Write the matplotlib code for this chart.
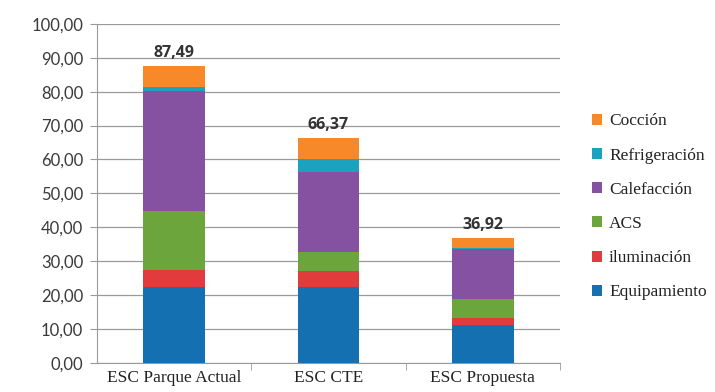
import matplotlib.pyplot as plt
import numpy as np
from matplotlib.ticker import FuncFormatter

escenarios = ['ESC Parque Actual', 'ESC CTE', 'ESC Propuesta']
equipamiento = [22.4, 22.3, 11.2]
iluminacion = [5.0, 4.9, 2.1]
acs = [17.3, 5.6, 5.5]
calefaccion = [35.5, 23.4, 14.8]
refrigeracion = [1.2, 3.8, 0.4]
coccion = [6.09, 6.37, 2.92]
totales = [87.49, 66.37, 36.92]

series = [
    ('Equipamiento', equipamiento, '#1470b0'),
    ('iluminación', iluminacion, '#e23b3e'),
    ('ACS', acs, '#6ba53b'),
    ('Calefacción', calefaccion, '#8552a1'),
    ('Refrigeración', refrigeracion, '#1ba2bf'),
    ('Cocción', coccion, '#f7892b'),
]

fig = plt.figure(figsize=(7.15, 3.92), dpi=100)
ax = fig.add_axes([0.1357, 0.0747, 0.6473, 0.8643])

x = np.arange(len(escenarios))
bottom = np.zeros(len(escenarios))
handles = []
for name, vals, col in series:
    h = ax.bar(x, vals, 0.4, bottom=bottom, color=col, label=name, zorder=3)
    handles.append(h)
    bottom += np.array(vals)

for xi, t in zip(x, totales):
    ax.text(xi, t + 1.5, f'{t:.2f}'.replace('.', ','), ha='center', va='bottom',
            fontsize=11.5, fontweight='bold', color='#333333', family='Open Sans')

ax.set_xlim(-0.5, 2.5)
ax.set_ylim(0, 100)
ax.set_yticks(np.arange(0, 101, 10))
ax.yaxis.set_major_formatter(FuncFormatter(lambda v, p: f'{v:.2f}'.replace('.', ',')))
ax.grid(axis='y', color='#9a9a9a', linewidth=0.9, zorder=0)
ax.set_xticks(x)
ax.set_xticklabels(escenarios, family='Liberation Serif', fontsize=12.5, color='#222222')
ax.set_xticks([0.5, 1.5, 2.5], minor=True)
ax.tick_params(axis='x', which='major', length=0, pad=5)
ax.tick_params(axis='x', which='minor', length=5, color='#9a9a9a')
ax.tick_params(axis='y', length=5, color='#9a9a9a', labelsize=12, labelcolor='#3a3a3a', pad=5)
for lbl in ax.get_yticklabels():
    lbl.set_family('Lato')
for s in ['top', 'right']:
    ax.spines[s].set_visible(False)
for s in ['left', 'bottom']:
    ax.spines[s].set_color('#9a9a9a')

leg = ax.legend(handles[::-1], [s[0] for s in series][::-1], loc='center left',
                bbox_to_anchor=(1.035, 0.46), frameon=False, handlelength=0.6,
                handleheight=0.6, handletextpad=0.4, labelspacing=1.05,
                prop={'family': 'Liberation Serif', 'size': 12.5})
for t in leg.get_texts():
    t.set_color('#222222')

plt.savefig('out.png', dpi=100)
